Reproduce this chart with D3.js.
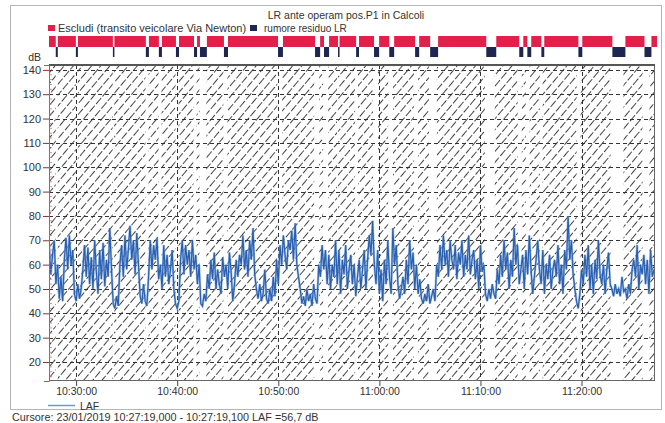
<!DOCTYPE html>
<html><head><meta charset="utf-8">
<script src="https://cdn.jsdelivr.net/npm/d3@7"></script>
<style>body{margin:0;background:#fff}svg{display:block;font-family:"Liberation Sans",Arial,sans-serif}</style>
</head><body><svg id="c" width="665" height="423"></svg>
<script>
// ---- data ----
const chartTitle = "LR ante operam pos.P1 in Calcoli";
const legendLabels = ["Escludi (transito veicolare Via Newton)", "rumore residuo LR"];
const yTicks = [20, 30, 40, 50, 60, 70, 80, 90, 100, 110, 120, 130, 140];
const xTickLabels = ["10:30:00", "10:40:00", "10:50:00", "11:00:00", "11:10:00", "11:20:00"];
const timeStart = "10:27:19";
const timeEnd = "11:27:16";
const lafStart = "10:27:20";
const lafStepSeconds = 10;
// "rumore residuo LR" intervals (outside them: "Escludi")
const residuoStart = ["10:27:59","10:29:58","10:33:37","10:36:52","10:38:09","10:39:50","10:41:37","10:42:12","10:44:34","10:49:54","10:53:33","10:54:26","10:55:49","10:57:36","10:59:22","11:00:52","11:03:25","11:04:54","11:10:26","11:13:41","11:14:29","11:15:52","11:19:31","11:22:52","11:26:02"];
const residuoEnd   = ["10:28:11","10:30:10","10:33:46","10:37:10","10:38:27","10:40:08","10:41:55","10:42:53","10:44:58","10:50:23","10:54:03","10:54:56","10:55:55","10:57:53","10:59:52","11:01:21","11:03:49","11:05:41","11:11:25","11:14:05","11:14:52","11:16:09","11:19:54","11:24:09","11:26:43"];
// LAF, one value every 10 s (dB)
const lafValues = [
68,56,64,70,52,60, 46,55,45,62,71,58, 72,60,66,48,45,52, 46,50,58,68,55,67, 52,63,50,70,57,48,
66,54,69,51,62,55, 75,58,44,42,47,43, 60,68,55,72,58,66, 76,62,70,56,73,60, 47,44,52,45,43,55,
70,58,68,62,71,54, 60,50,68,55,64,52, 58,66,50,44,42,45, 62,70,56,68,60,66, 55,70,58,64,52,60,
44,43,48,45,56,50, 62,54,65,50,58,52, 48,63,55,60,50,65, 57,45,52,62,55,64, 60,72,58,66,55,70,
62,75,56,50,46,52, 45,48,58,46,44,50, 45,55,47,62,52,68, 60,72,64,58,70,66, 74,62,77,60,55,50,
44,47,43,50,45,48, 43,52,46,44,60,55, 68,58,66,52,64,50, 60,55,70,52,66,48, 62,56,68,50,58,64,
52,60,47,55,62,50, 58,66,50,62,72,64, 78,60,52,66,48,58, 45,62,52,70,55,48, 75,60,68,52,46,50,
55,48,62,52,70,58, 65,50,60,48,54,46, 44,48,45,52,44,47, 50,45,60,55,68,58, 72,60,66,55,70,62,
58,68,54,65,60,70, 55,64,58,72,56,62, 66,54,62,50,68,57, 60,48,45,50,46,52, 48,46,58,52,64,55,
70,58,65,50,62,55, 75,60,68,52,58,64, 50,66,56,72,58,48, 55,62,70,58,52,66, 48,60,54,64,50,58,
62,55,68,52,60,48, 66,58,80,62,70,56, 50,45,42,48,58,52, 64,55,68,50,60,48, 62,54,70,56,52,60,
48,58,65,52,50,47, 52,48,50,47,55,49, 50,46,52,48,58,62, 55,68,50,60,56,64, 52,62,48,66,55,58
];
const cursorText = "Cursore: 23/01/2019 10:27:19,000 - 10:27:19,100  LAF =56,7 dB";

// ---- drawing ----
const svg = d3.select("#c");
const parse = d3.timeParse("%H:%M:%S");
const L = 49, R = 655, T = 65, B = 381;
const x = d3.scaleTime().domain([parse(timeStart), parse(timeEnd)]).range([L, R]);
const y = d3.scaleLinear().domain([12.2, 142]).range([B, T]);
const t0 = parse(lafStart);
const laf = lafValues.map((v, i) => ({t: new Date(t0.getTime() + i * lafStepSeconds * 1000), v}));
const gaps = residuoStart.map((s, i) => ({s: parse(s), e: parse(residuoEnd[i])}));

// outer frame
svg.append("rect").attr("x", 10.5).attr("y", 5.5).attr("width", 651).attr("height", 404)
  .attr("fill", "none").attr("stroke", "#b5b5b5");

// title
svg.append("text").attr("x", 346).attr("y", 19).attr("text-anchor", "middle")
  .attr("font-size", 10.5).attr("fill", "#333").text(chartTitle);

// legend
svg.append("rect").attr("x", 48).attr("y", 25).attr("width", 7).attr("height", 6).attr("fill", "#e3204a");
svg.append("text").attr("x", 58).attr("y", 32).attr("font-size", 11).attr("fill", "#333").text(legendLabels[0]);
svg.append("rect").attr("x", 250).attr("y", 25).attr("width", 7).attr("height", 6).attr("fill", "#1d2752");
svg.append("text").attr("x", 264).attr("y", 32).attr("font-size", 10).attr("fill", "#333").text(legendLabels[1]);

// band
const bandR = 657;
const xb = d3.scaleTime().domain(x.domain()).range([L, bandR]);
svg.append("rect").attr("x", L).attr("y", 36).attr("width", bandR - L).attr("height", 11).attr("fill", "#e3204a");
svg.append("g").selectAll("rect").data(gaps).join("rect")
  .attr("x", d => xb(d.s)).attr("width", d => Math.max(1.5, xb(d.e) - xb(d.s)))
  .attr("y", 36).attr("height", 11).attr("fill", "#fff");
svg.append("g").selectAll("rect").data(gaps).join("rect")
  .attr("x", d => xb(d.s)).attr("width", d => Math.max(1.5, xb(d.e) - xb(d.s)))
  .attr("y", 47).attr("height", 10).attr("fill", "#1d2752");

// hatch pattern
const defs = svg.append("defs");
const pat = defs.append("pattern").attr("id", "hatch").attr("patternUnits", "userSpaceOnUse")
  .attr("width", 7).attr("height", 20).attr("patternTransform", "rotate(40)");
pat.append("line").attr("x1", 0.5).attr("y1", 0).attr("x2", 0.5).attr("y2", 20)
  .attr("stroke", "#444").attr("stroke-width", 1).attr("stroke-dasharray", "8,2");
defs.append("clipPath").attr("id", "plotclip").append("rect")
  .attr("x", L).attr("y", T).attr("width", R - L).attr("height", B - T);

const plot = svg.append("g").attr("clip-path", "url(#plotclip)");
plot.append("rect").attr("x", L).attr("y", T).attr("width", R - L).attr("height", B - T).attr("fill", "url(#hatch)");
plot.append("g").selectAll("rect").data(gaps).join("rect")
  .attr("x", d => x(d.s)).attr("width", d => Math.max(1, x(d.e) - x(d.s)))
  .attr("y", T).attr("height", B - T).attr("fill", "#fff");

// gridlines
const xTicks = xTickLabels.map(parse);
plot.append("g").selectAll("line").data(yTicks).join("line")
  .attr("x1", L).attr("x2", R).attr("y1", d => Math.round(y(d)) + 0.5).attr("y2", d => Math.round(y(d)) + 0.5)
  .attr("stroke", "#333").attr("stroke-dasharray", "4,3");
plot.append("g").selectAll("line").data(xTicks).join("line")
  .attr("y1", T).attr("y2", B).attr("x1", d => Math.round(x(d)) + 0.5).attr("x2", d => Math.round(x(d)) + 0.5)
  .attr("stroke", "#333").attr("stroke-dasharray", "4,3");

// LAF line
const line = d3.line().x(d => x(d.t)).y(d => y(d.v));
plot.append("path").datum(laf).attr("d", line).attr("fill", "none")
  .attr("stroke", "#7aa5dc").attr("stroke-width", 2.4).attr("opacity", 0.65);
plot.append("path").datum(laf).attr("d", line).attr("fill", "none")
  .attr("stroke", "#2a5fb0").attr("stroke-width", 1.2);

// frame
svg.append("rect").attr("x", L + 0.5).attr("y", T + 0.5).attr("width", R - L - 1).attr("height", B - T - 1)
  .attr("fill", "none").attr("stroke", "#666");
svg.append("line").attr("x1", L).attr("x2", R).attr("y1", T).attr("y2", T).attr("stroke", "#555").attr("stroke-width", 2);

// y axis
const yAxis = d3.axisLeft(y).tickValues(yTicks).tickSize(5).tickPadding(3);
const ya = svg.append("g").attr("transform", `translate(${L},0)`).call(yAxis);
ya.select(".domain").attr("stroke", "#c8504a");
ya.selectAll(".tick line").attr("stroke", "#8a3030").attr("x2", -6);
ya.selectAll("text").attr("font-size", 11).attr("fill", "#333").attr("font-family", "Liberation Sans, Arial, sans-serif");
const minor = d3.range(14, 142, 2).filter(v => v % 10 !== 0);
svg.append("g").selectAll("line").data(minor).join("line")
  .attr("x1", L).attr("x2", L + 3).attr("y1", d => y(d)).attr("y2", d => y(d)).attr("stroke", "#d07070").attr("stroke-width", 0.8);
svg.append("text").attr("x", 41).attr("y", 61).attr("text-anchor", "end").attr("font-size", 10.5).attr("fill", "#333").text("dB");

// x axis
const xAxis = d3.axisBottom(x).tickValues(xTicks).tickFormat((d, i) => xTickLabels[i]).tickSize(5).tickPadding(2);
const xa = svg.append("g").attr("transform", `translate(0,${B})`).call(xAxis);
xa.select(".domain").remove();
xa.selectAll(".tick line").attr("stroke", "#444");
xa.selectAll("text").attr("font-size", 10.5).attr("fill", "#333").attr("font-family", "Liberation Sans, Arial, sans-serif");

// LAF legend
svg.append("line").attr("x1", 48).attr("x2", 75).attr("y1", 405.5).attr("y2", 405.5).attr("stroke", "#6a9bd8").attr("stroke-width", 1.5);
svg.append("text").attr("x", 80).attr("y", 410).attr("font-size", 10.5).attr("fill", "#333").text("LAF");

// cursor text
svg.append("text").attr("x", 12).attr("y", 421).attr("font-size", 10.8).attr("fill", "#333").text(cursorText);
</script></body></html>
